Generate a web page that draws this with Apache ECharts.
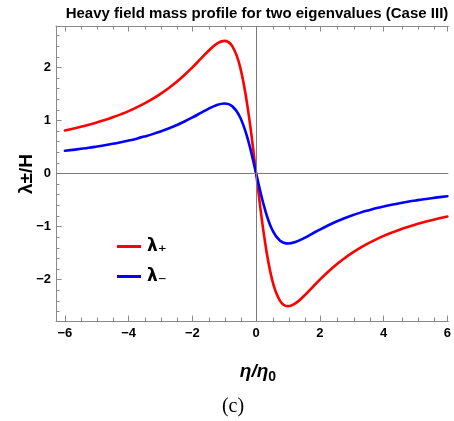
<!DOCTYPE html>
<html>
<head>
<meta charset="utf-8">
<script src="https://cdn.jsdelivr.net/npm/echarts@6/dist/echarts.min.js"></script>
<style>html,body{margin:0;padding:0;background:#fff;}#c{width:454px;height:421px;}</style>
</head>
<body>
<div id="c"></div>
<script>
// ---- data ----
const etaValues = [-6,-5.75,-5.5,-5.25,-5,-4.75,-4.5,-4.25,-4,-3.75,-3.5,-3.25,-3,-2.75,-2.5,-2.25,-2,-1.75,-1.5,-1.25,-1,-0.75,-0.5,-0.25,0,
  0.25,0.5,0.75,1,1.25,1.5,1.75,2,2.25,2.5,2.75,3,3.25,3.5,3.75,4,4.25,4.5,4.75,5,5.25,5.5,5.75,6];
const lambdaPlus = [0.811,0.844,0.880,0.919,0.962,1.008,1.059,1.115,1.176,1.245,1.321,1.405,1.500,1.606,1.724,1.856,2.000,2.154,2.308,2.439,2.500,2.400,2.000,1.176,0,
  -1.176,-2.000,-2.400,-2.500,-2.439,-2.308,-2.154,-2.000,-1.856,-1.724,-1.606,-1.500,-1.405,-1.321,-1.245,-1.176,-1.115,-1.059,-1.008,-0.962,-0.919,-0.880,-0.844,-0.811];
const lambdaMinus = [0.428,0.446,0.465,0.485,0.508,0.532,0.559,0.589,0.621,0.657,0.698,0.742,0.792,0.848,0.910,0.980,1.056,1.137,1.219,1.288,1.320,1.267,1.056,0.621,0,
  -0.621,-1.056,-1.267,-1.320,-1.288,-1.219,-1.137,-1.056,-0.980,-0.910,-0.848,-0.792,-0.742,-0.698,-0.657,-0.621,-0.589,-0.559,-0.532,-0.508,-0.485,-0.465,-0.446,-0.428];
const xMajorTicks = [-6,-4,-2,0,2,4,6];
const xMinorTicks = [-5.5,-5,-4.5,-3.5,-3,-2.5,-1.5,-1,-0.5,0.5,1,1.5,2.5,3,3.5,4.5,5,5.5];
const yMajorTicks = [-2,-1,0,1,2];
const yMinorTicks = [-2.6,-2.4,-2.2,-1.8,-1.6,-1.4,-1.2,-0.8,-0.6,-0.4,-0.2,0.2,0.4,0.6,0.8,1.2,1.4,1.6,1.8,2.2,2.4,2.6];
const seriesNames = ['λ₊','λ₋'];
const titleText = 'Heavy field mass profile for two eigenvalues (Case III)';

const X_MIN = -6.28, X_MAX = 6.03, Y_MIN = -2.78, Y_MAX = 2.78;
const frameColor = '#8a8a8a';
const fmt = v => String(v).replace('-', '\u2212');
const labelStyle = {color:'#000', fontWeight:'bold', fontSize:13, fontFamily:'Liberation Sans, Arial, sans-serif'};

const chart = echarts.init(document.getElementById('c'), null, {renderer:'canvas'});
const gridPos = {left:56, right:3, top:26, bottom:100};

function xAx(gridIndex, position, ticks, len, withLine, withLabel){
  return {type:'value', gridIndex, position, min:X_MIN, max:X_MAX,
    axisLine:{show:withLine, onZero:false, lineStyle:{color:frameColor, width:1}},
    axisTick:{show:true, inside:true, length:len, customValues:ticks, lineStyle:{color:frameColor, width:1}},
    axisLabel:{show:withLabel, customValues:ticks, formatter:fmt, margin:6, ...labelStyle},
    splitLine:{show:false}};
}
function yAx(gridIndex, ticks, len, withLine, withLabel){
  return {type:'value', gridIndex, position:'left', min:Y_MIN, max:Y_MAX,
    axisLine:{show:withLine, onZero:false, lineStyle:{color:frameColor, width:1}},
    axisTick:{show:true, inside:true, length:len, customValues:ticks, lineStyle:{color:frameColor, width:1}},
    axisLabel:{show:withLabel, customValues:ticks, formatter:fmt, margin:5, ...labelStyle},
    splitLine:{show:false}};
}

const option = {
  backgroundColor:'#fff',
  animation:false,
  grid:[{...gridPos}, {...gridPos}],
  xAxis:[
    xAx(0,'bottom',xMajorTicks,5.5,true,true),
    xAx(0,'top',xMajorTicks,5.5,true,false),
    xAx(1,'bottom',xMinorTicks,3.5,false,false),
    xAx(1,'top',xMinorTicks,3.5,false,false)
  ],
  yAxis:[
    yAx(0,yMajorTicks,5.5,true,true),
    yAx(1,yMinorTicks,3.5,false,false)
  ],
  legend:{
    orient:'vertical', left:112, top:233, itemWidth:24, itemHeight:3, itemGap:13, icon:'rect',
    data:seriesNames,
    textStyle:{color:'#000', fontSize:17, fontWeight:'bold', fontFamily:'DejaVu Sans, sans-serif', padding:[0,0,0,1]}
  },
  series:[
    {name:seriesNames[0], type:'line', xAxisIndex:0, yAxisIndex:0, smooth:0.4, symbol:'none',
      lineStyle:{color:'#ff0000', width:2.6, cap:'round', join:'round'}, itemStyle:{color:'#ff0000'},
      data:etaValues.map((x,i)=>[x, lambdaPlus[i]]),
      markLine:{silent:true, symbol:'none', label:{show:false}, animation:false,
        lineStyle:{color:'#7a7a7a', width:1, type:'solid'},
        data:[{xAxis:0},{yAxis:0}]}, z:3},
    {name:seriesNames[1], type:'line', xAxisIndex:0, yAxisIndex:0, smooth:0.4, symbol:'none',
      lineStyle:{color:'#0000ff', width:2.6, cap:'round', join:'round'}, itemStyle:{color:'#0000ff'},
      data:etaValues.map((x,i)=>[x, lambdaMinus[i]]), z:3}
  ],
  graphic:[
    {type:'text', x:257, y:14, style:{text:titleText, textAlign:'center', textVerticalAlign:'middle',
      font:'bold 15px "Liberation Sans", Arial, sans-serif', fill:'#000'}},
    {type:'text', x:27, y:174, rotation:Math.PI/2, style:{text:'λ±/H', textAlign:'center', textVerticalAlign:'middle',
      font:'bold 19px "Liberation Sans", Arial, sans-serif', fill:'#000'}},
    {type:'text', x:258, y:372, style:{text:'{a|η/η}{b|0}', textAlign:'center', textVerticalAlign:'middle',
      rich:{a:{font:'italic bold 19px "Liberation Sans", Arial, sans-serif', fill:'#000', verticalAlign:'bottom'},
            b:{font:'bold 14px "Liberation Sans", Arial, sans-serif', fill:'#000', verticalAlign:'bottom', padding:[0,0,-3,0]}}}},
    {type:'text', x:233, y:407, style:{text:'(c)', textAlign:'center', textVerticalAlign:'middle',
      font:'20px "Liberation Serif", "Times New Roman", serif', fill:'#000'}}
  ]
};
chart.setOption(option);
</script>
</body>
</html>
